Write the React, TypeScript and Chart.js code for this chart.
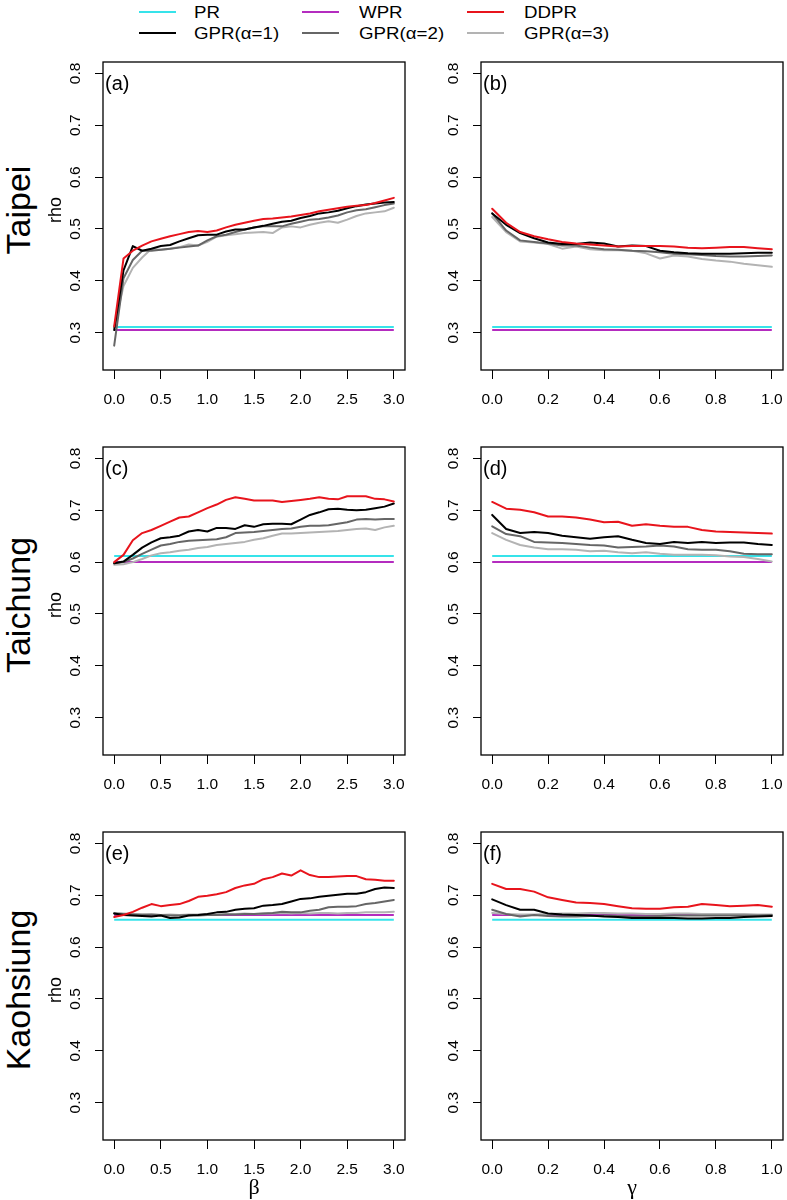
import React, { useEffect, useRef } from "react";
import { Chart, registerables } from "chart.js";

Chart.register(...registerables);

// ---------------- data ----------------
const betaValues = [0, 0.1, 0.2, 0.3, 0.4, 0.5, 0.6, 0.7, 0.8, 0.9, 1.0, 1.1, 1.2, 1.3, 1.4, 1.5, 1.6, 1.7, 1.8, 1.9, 2.0, 2.1, 2.2, 2.3, 2.4, 2.5, 2.6, 2.7, 2.8, 2.9, 3.0];
const gammaValues = [0, 0.05, 0.1, 0.15, 0.2, 0.25, 0.3, 0.35, 0.4, 0.45, 0.5, 0.55, 0.6, 0.65, 0.7, 0.75, 0.8, 0.85, 0.9, 0.95, 1.0];

const betaTicks = [0, 0.5, 1, 1.5, 2, 2.5, 3];
const betaTickLabels = ["0.0", "0.5", "1.0", "1.5", "2.0", "2.5", "3.0"];
const gammaTicks = [0, 0.2, 0.4, 0.6, 0.8, 1];
const gammaTickLabels = ["0.0", "0.2", "0.4", "0.6", "0.8", "1.0"];
const rhoTicks = [0.3, 0.4, 0.5, 0.6, 0.7, 0.8];
const rhoTickLabels = ["0.3", "0.4", "0.5", "0.6", "0.7", "0.8"];

const cities = ["Taipei", "Taichung", "Kaohsiung"];
const panelLetters = ["(a)", "(b)", "(c)", "(d)", "(e)", "(f)"];
const seriesNames = ["PR", "WPR", "DDPR", "GPR(α=1)", "GPR(α=2)", "GPR(α=3)"];

const taipeiPR = 0.311;
const taipeiWPR = 0.305;
const taichungPR = 0.612;
const taichungWPR = 0.6;
const kaohsiungPR = 0.653;
const kaohsiungWPR = 0.662;

const taipeiBetaDDPR = [0.312, 0.443, 0.458, 0.468, 0.476, 0.481, 0.486, 0.49, 0.494, 0.496, 0.494, 0.497, 0.503, 0.508, 0.512, 0.516, 0.519, 0.52, 0.522, 0.524, 0.527, 0.53, 0.534, 0.537, 0.54, 0.543, 0.545, 0.546, 0.55, 0.555, 0.56];
const taipeiBetaGPR1 = [0.305, 0.42, 0.467, 0.458, 0.462, 0.467, 0.469, 0.476, 0.482, 0.488, 0.489, 0.489, 0.495, 0.499, 0.499, 0.503, 0.506, 0.51, 0.514, 0.516, 0.521, 0.525, 0.53, 0.532, 0.535, 0.54, 0.544, 0.547, 0.549, 0.551, 0.552];
const taipeiBetaGPR2 = [0.275, 0.405, 0.44, 0.458, 0.458, 0.46, 0.462, 0.464, 0.466, 0.468, 0.478, 0.486, 0.489, 0.494, 0.499, 0.503, 0.505, 0.505, 0.505, 0.51, 0.514, 0.518, 0.519, 0.522, 0.526, 0.532, 0.536, 0.538, 0.542, 0.546, 0.549];
const taipeiBetaGPR3 = [0.31, 0.39, 0.425, 0.445, 0.462, 0.46, 0.462, 0.465, 0.47, 0.468, 0.475, 0.485, 0.488, 0.49, 0.492, 0.493, 0.494, 0.492, 0.503, 0.505, 0.503, 0.508, 0.512, 0.515, 0.512, 0.518, 0.525, 0.53, 0.532, 0.534, 0.541];

const taipeiGammaDDPR = [0.539, 0.512, 0.494, 0.486, 0.48, 0.475, 0.472, 0.47, 0.468, 0.466, 0.467, 0.467, 0.467, 0.466, 0.464, 0.463, 0.464, 0.465, 0.465, 0.463, 0.461];
const taipeiGammaGPR1 = [0.53, 0.508, 0.492, 0.482, 0.474, 0.471, 0.471, 0.474, 0.472, 0.466, 0.468, 0.467, 0.458, 0.455, 0.453, 0.452, 0.452, 0.452, 0.453, 0.454, 0.454];
const taipeiGammaGPR2 = [0.53, 0.497, 0.478, 0.475, 0.472, 0.468, 0.468, 0.464, 0.461, 0.46, 0.458, 0.457, 0.455, 0.452, 0.451, 0.45, 0.448, 0.447, 0.447, 0.448, 0.449];
const taipeiGammaGPR3 = [0.523, 0.494, 0.476, 0.474, 0.471, 0.462, 0.466, 0.461, 0.459, 0.459, 0.458, 0.453, 0.443, 0.449, 0.447, 0.442, 0.439, 0.437, 0.433, 0.43, 0.427];

const taichungBetaDDPR = [0.6, 0.614, 0.642, 0.656, 0.662, 0.67, 0.678, 0.686, 0.688, 0.696, 0.704, 0.711, 0.72, 0.725, 0.722, 0.719, 0.719, 0.719, 0.716, 0.718, 0.72, 0.722, 0.725, 0.722, 0.721, 0.727, 0.727, 0.727, 0.722, 0.721, 0.717];
const taichungBetaGPR1 = [0.598, 0.601, 0.614, 0.628, 0.638, 0.646, 0.648, 0.651, 0.659, 0.662, 0.659, 0.666, 0.666, 0.664, 0.671, 0.668, 0.673, 0.674, 0.674, 0.673, 0.682, 0.691, 0.696, 0.702, 0.703, 0.701, 0.7, 0.701, 0.704, 0.707, 0.713];
const taichungBetaGPR2 = [0.598, 0.6, 0.607, 0.616, 0.624, 0.632, 0.635, 0.639, 0.641, 0.642, 0.643, 0.644, 0.648, 0.656, 0.657, 0.658, 0.66, 0.662, 0.664, 0.665, 0.668, 0.67, 0.67, 0.671, 0.674, 0.677, 0.682, 0.683, 0.682, 0.683, 0.683];
const taichungBetaGPR3 = [0.595, 0.596, 0.6, 0.606, 0.613, 0.617, 0.619, 0.622, 0.624, 0.627, 0.629, 0.633, 0.635, 0.637, 0.639, 0.643, 0.646, 0.651, 0.655, 0.655, 0.656, 0.657, 0.658, 0.659, 0.66, 0.662, 0.664, 0.665, 0.662, 0.667, 0.67];

const taichungGammaDDPR = [0.716, 0.703, 0.701, 0.696, 0.688, 0.688, 0.686, 0.682, 0.677, 0.678, 0.67, 0.673, 0.67, 0.668, 0.668, 0.662, 0.659, 0.658, 0.657, 0.656, 0.655];
const taichungGammaGPR1 = [0.691, 0.664, 0.656, 0.658, 0.656, 0.651, 0.648, 0.645, 0.648, 0.65, 0.643, 0.637, 0.635, 0.639, 0.637, 0.639, 0.637, 0.638, 0.638, 0.635, 0.633];
const taichungGammaGPR2 = [0.669, 0.654, 0.65, 0.639, 0.638, 0.637, 0.635, 0.633, 0.632, 0.628, 0.629, 0.63, 0.632, 0.63, 0.625, 0.624, 0.624, 0.621, 0.616, 0.615, 0.615];
const taichungGammaGPR3 = [0.656, 0.643, 0.633, 0.628, 0.625, 0.625, 0.624, 0.621, 0.622, 0.619, 0.617, 0.619, 0.616, 0.614, 0.614, 0.614, 0.613, 0.611, 0.61, 0.606, 0.601];

const kaohsiungBetaDDPR = [0.658, 0.662, 0.668, 0.676, 0.683, 0.679, 0.681, 0.683, 0.689, 0.697, 0.699, 0.702, 0.706, 0.714, 0.719, 0.722, 0.731, 0.735, 0.742, 0.738, 0.748, 0.739, 0.735, 0.735, 0.736, 0.737, 0.737, 0.731, 0.73, 0.728, 0.728];
const kaohsiungBetaGPR1 = [0.665, 0.662, 0.661, 0.66, 0.659, 0.661, 0.656, 0.657, 0.661, 0.662, 0.664, 0.667, 0.668, 0.672, 0.674, 0.675, 0.68, 0.681, 0.683, 0.688, 0.693, 0.694, 0.697, 0.699, 0.701, 0.703, 0.703, 0.706, 0.712, 0.715, 0.714];
const kaohsiungBetaGPR2 = [0.665, 0.664, 0.663, 0.662, 0.663, 0.662, 0.661, 0.661, 0.662, 0.661, 0.662, 0.662, 0.663, 0.663, 0.664, 0.664, 0.665, 0.666, 0.668, 0.667, 0.667, 0.67, 0.672, 0.677, 0.678, 0.678, 0.679, 0.683, 0.685, 0.688, 0.691];
const kaohsiungBetaGPR3 = [0.666, 0.665, 0.664, 0.664, 0.663, 0.662, 0.663, 0.662, 0.663, 0.663, 0.664, 0.663, 0.664, 0.664, 0.665, 0.664, 0.665, 0.665, 0.666, 0.665, 0.666, 0.665, 0.666, 0.666, 0.665, 0.666, 0.666, 0.667, 0.667, 0.667, 0.668];

const kaohsiungGammaDDPR = [0.722, 0.712, 0.712, 0.707, 0.696, 0.691, 0.686, 0.685, 0.683, 0.679, 0.675, 0.674, 0.674, 0.677, 0.678, 0.683, 0.681, 0.679, 0.68, 0.681, 0.678];
const kaohsiungGammaGPR1 = [0.692, 0.681, 0.672, 0.672, 0.665, 0.663, 0.662, 0.661, 0.659, 0.658, 0.656, 0.656, 0.656, 0.656, 0.655, 0.655, 0.656, 0.656, 0.658, 0.659, 0.66];
const kaohsiungGammaGPR2 = [0.672, 0.664, 0.659, 0.662, 0.66, 0.659, 0.659, 0.66, 0.661, 0.66, 0.659, 0.659, 0.66, 0.661, 0.661, 0.661, 0.661, 0.661, 0.661, 0.661, 0.662];
const kaohsiungGammaGPR3 = [0.666, 0.664, 0.663, 0.663, 0.664, 0.665, 0.665, 0.666, 0.666, 0.665, 0.665, 0.664, 0.664, 0.665, 0.665, 0.664, 0.664, 0.664, 0.664, 0.663, 0.663];

// ---------------- styles / layout ----------------
const FONT = "'Liberation Sans', Arial, Helvetica, sans-serif";
const SERIF = "'Liberation Serif', 'DejaVu Serif', serif";
const COLORS: Record<string, string> = {
  PR: "#36e3ea",
  WPR: "#b42cbf",
  DDPR: "#e8141c",
  "GPR(α=1)": "#000000",
  "GPR(α=2)": "#666666",
  "GPR(α=3)": "#b3b3b3",
};
const BOX_W = 302;
const BOX_H = 308;
const M_LEFT = 60;
const M_TOP = 2;
const M_RIGHT = 2;
const M_BOTTOM = 45;
const COL_LEFT = [103, 481];
const ROW_TOP = [62, 447, 832];
const Y_MIN = 0.228;
const Y_MAX = 0.822;

type PanelSpec = {
  xs: number[];
  xMin: number;
  xMax: number;
  xTicks: number[];
  xTickLabels: string[];
  pr: number;
  wpr: number;
  ddpr: number[];
  gpr1: number[];
  gpr2: number[];
  gpr3: number[];
};

const betaAxis = { xs: betaValues, xMin: -0.12, xMax: 3.12, xTicks: betaTicks, xTickLabels: betaTickLabels };
const gammaAxis = { xs: gammaValues, xMin: -0.04, xMax: 1.04, xTicks: gammaTicks, xTickLabels: gammaTickLabels };

const panels: PanelSpec[] = [
  { ...betaAxis, pr: taipeiPR, wpr: taipeiWPR, ddpr: taipeiBetaDDPR, gpr1: taipeiBetaGPR1, gpr2: taipeiBetaGPR2, gpr3: taipeiBetaGPR3 },
  { ...gammaAxis, pr: taipeiPR, wpr: taipeiWPR, ddpr: taipeiGammaDDPR, gpr1: taipeiGammaGPR1, gpr2: taipeiGammaGPR2, gpr3: taipeiGammaGPR3 },
  { ...betaAxis, pr: taichungPR, wpr: taichungWPR, ddpr: taichungBetaDDPR, gpr1: taichungBetaGPR1, gpr2: taichungBetaGPR2, gpr3: taichungBetaGPR3 },
  { ...gammaAxis, pr: taichungPR, wpr: taichungWPR, ddpr: taichungGammaDDPR, gpr1: taichungGammaGPR1, gpr2: taichungGammaGPR2, gpr3: taichungGammaGPR3 },
  { ...betaAxis, pr: kaohsiungPR, wpr: kaohsiungWPR, ddpr: kaohsiungBetaDDPR, gpr1: kaohsiungBetaGPR1, gpr2: kaohsiungBetaGPR2, gpr3: kaohsiungBetaGPR3 },
  { ...gammaAxis, pr: kaohsiungPR, wpr: kaohsiungWPR, ddpr: kaohsiungGammaDDPR, gpr1: kaohsiungGammaGPR1, gpr2: kaohsiungGammaGPR2, gpr3: kaohsiungGammaGPR3 },
];

const boxPlugin = {
  id: "fullBox",
  afterDraw(chart: any) {
    const { ctx, chartArea: a } = chart;
    ctx.save();
    ctx.strokeStyle = "#000";
    ctx.lineWidth = 1.3;
    ctx.strokeRect(a.left, a.top, a.right - a.left, a.bottom - a.top);
    ctx.restore();
  },
};

function Panel({ spec, left, top }: { spec: PanelSpec; left: number; top: number }) {
  const ref = useRef<HTMLCanvasElement | null>(null);
  const cw = M_LEFT + BOX_W + M_RIGHT;
  const ch = M_TOP + BOX_H + M_BOTTOM;

  useEffect(() => {
    const canvas = ref.current;
    if (!canvas) return;
    const xs = spec.xs;
    const x0 = xs[0];
    const x1 = xs[xs.length - 1];
    const mk = (name: string, values: number[]) => ({
      label: name,
      data: xs.map((x, i) => ({ x, y: values[i] })),
      borderColor: COLORS[name],
      backgroundColor: COLORS[name],
      borderWidth: 2,
      pointRadius: 0,
      tension: 0,
      fill: false,
      borderJoinStyle: "round" as const,
      borderCapStyle: "round" as const,
    });
    const flat = (name: string, v: number) => ({
      label: name,
      data: [
        { x: x0, y: v },
        { x: x1, y: v },
      ],
      borderColor: COLORS[name],
      backgroundColor: COLORS[name],
      borderWidth: 2,
      pointRadius: 0,
      fill: false,
    });
    // first dataset is drawn on top
    const datasets = [
      mk("DDPR", spec.ddpr),
      mk("GPR(α=1)", spec.gpr1),
      mk("GPR(α=2)", spec.gpr2),
      mk("GPR(α=3)", spec.gpr3),
      flat("WPR", spec.wpr),
      flat("PR", spec.pr),
    ];
    const tickFont = { family: FONT, size: 15.5 };
    const chart = new Chart(canvas, {
      type: "line",
      data: { datasets } as any,
      options: {
        responsive: false,
        animation: false,
        devicePixelRatio: 1,
        layout: { padding: { left: 0, top: M_TOP, right: M_RIGHT, bottom: 0 } },
        plugins: { legend: { display: false }, tooltip: { enabled: false } },
        scales: {
          x: {
            type: "linear",
            min: spec.xMin,
            max: spec.xMax,
            afterBuildTicks: (s: any) => {
              s.ticks = spec.xTicks.map((v) => ({ value: v }));
            },
            afterFit: (s: any) => {
              s.height = M_BOTTOM;
              s.paddingLeft = 0;
              s.paddingRight = 0;
            },
            ticks: {
              callback: (_v: any, i: number) => spec.xTickLabels[i],
              autoSkip: false,
              maxRotation: 0,
              minRotation: 0,
              padding: 11,
              color: "#000",
              font: tickFont,
            },
            grid: { drawOnChartArea: false, drawTicks: true, tickLength: 9, color: "#000", lineWidth: 1 },
            border: { display: false },
          },
          y: {
            type: "linear",
            min: Y_MIN,
            max: Y_MAX,
            afterBuildTicks: (s: any) => {
              s.ticks = rhoTicks.map((v) => ({ value: v }));
            },
            afterFit: (s: any) => {
              s.width = M_LEFT;
              s.paddingTop = 0;
              s.paddingBottom = 0;
            },
            ticks: {
              callback: (_v: any, i: number) => rhoTickLabels[i],
              autoSkip: false,
              minRotation: 90,
              maxRotation: 90,
              crossAlign: "center",
              padding: 8.5,
              color: "#000",
              font: tickFont,
            },
            grid: { drawOnChartArea: false, drawTicks: true, tickLength: 8, color: "#000", lineWidth: 1 },
            border: { display: false },
          },
        },
      } as any,
      plugins: [boxPlugin],
    });
    return () => chart.destroy();
  }, []);

  return (
    <canvas
      ref={ref}
      width={cw}
      height={ch}
      style={{ position: "absolute", left: left - M_LEFT, top: top - M_TOP, width: cw, height: ch }}
    />
  );
}

const textBase: React.CSSProperties = {
  position: "absolute",
  fontFamily: FONT,
  color: "#000",
  whiteSpace: "nowrap",
  lineHeight: 1,
};

function Legend() {
  const rows = [seriesNames.slice(0, 3), seriesNames.slice(3, 6)];
  const rowY = [12, 33];
  const lineX = [139, 302, 467];
  const textX = [194, 359, 524];
  return (
    <>
      {rows.map((row, r) =>
        row.map((name, c) => (
          <React.Fragment key={name}>
            <div
              style={{
                position: "absolute",
                left: lineX[c],
                top: rowY[r] - 1,
                width: 37,
                height: 2,
                background: COLORS[name],
              }}
            />
            <div
              style={{
                ...textBase,
                left: textX[c],
                top: rowY[r] - 8.5,
                fontSize: 17,
                transform: "scaleX(1.1)",
                transformOrigin: "left center",
              }}
            >
              {name}
            </div>
          </React.Fragment>
        ))
      )}
    </>
  );
}

export default function App() {
  const rowLabelY = [210, 605, 990];
  return (
    <div style={{ position: "absolute", left: 0, top: 0, width: 787, height: 1200, background: "#fff", overflow: "hidden" }}>
      <Legend />
      {panels.map((p, i) => {
        const r = Math.floor(i / 2);
        const c = i % 2;
        return <Panel key={i} spec={p} left={COL_LEFT[c]} top={ROW_TOP[r]} />;
      })}
      {panels.map((_p, i) => {
        const r = Math.floor(i / 2);
        const c = i % 2;
        return (
          <div key={"l" + i} style={{ ...textBase, left: COL_LEFT[c] + 2, top: ROW_TOP[r] + 23 - 11.7, fontSize: 20 }}>
            {panelLetters[i]}
          </div>
        );
      })}
      {cities.map((name, r) => (
        <React.Fragment key={name}>
          <div
            style={{
              ...textBase,
              left: 18,
              top: rowLabelY[r],
              fontSize: 34,
              transform: "translate(-50%, -50%) rotate(-90deg)",
            }}
          >
            {name}
          </div>
          <div
            style={{
              ...textBase,
              left: 55,
              top: rowLabelY[r],
              fontSize: 18,
              transform: "translate(-50%, -50%) rotate(-90deg)",
            }}
          >
            rho
          </div>
        </React.Fragment>
      ))}
      <div style={{ ...textBase, fontFamily: SERIF, left: 254, top: 1187, fontSize: 22, transform: "translate(-50%, -50%)" }}>β</div>
      <div style={{ ...textBase, fontFamily: SERIF, left: 632, top: 1187, fontSize: 22, transform: "translate(-50%, -50%)" }}>γ</div>
    </div>
  );
}
